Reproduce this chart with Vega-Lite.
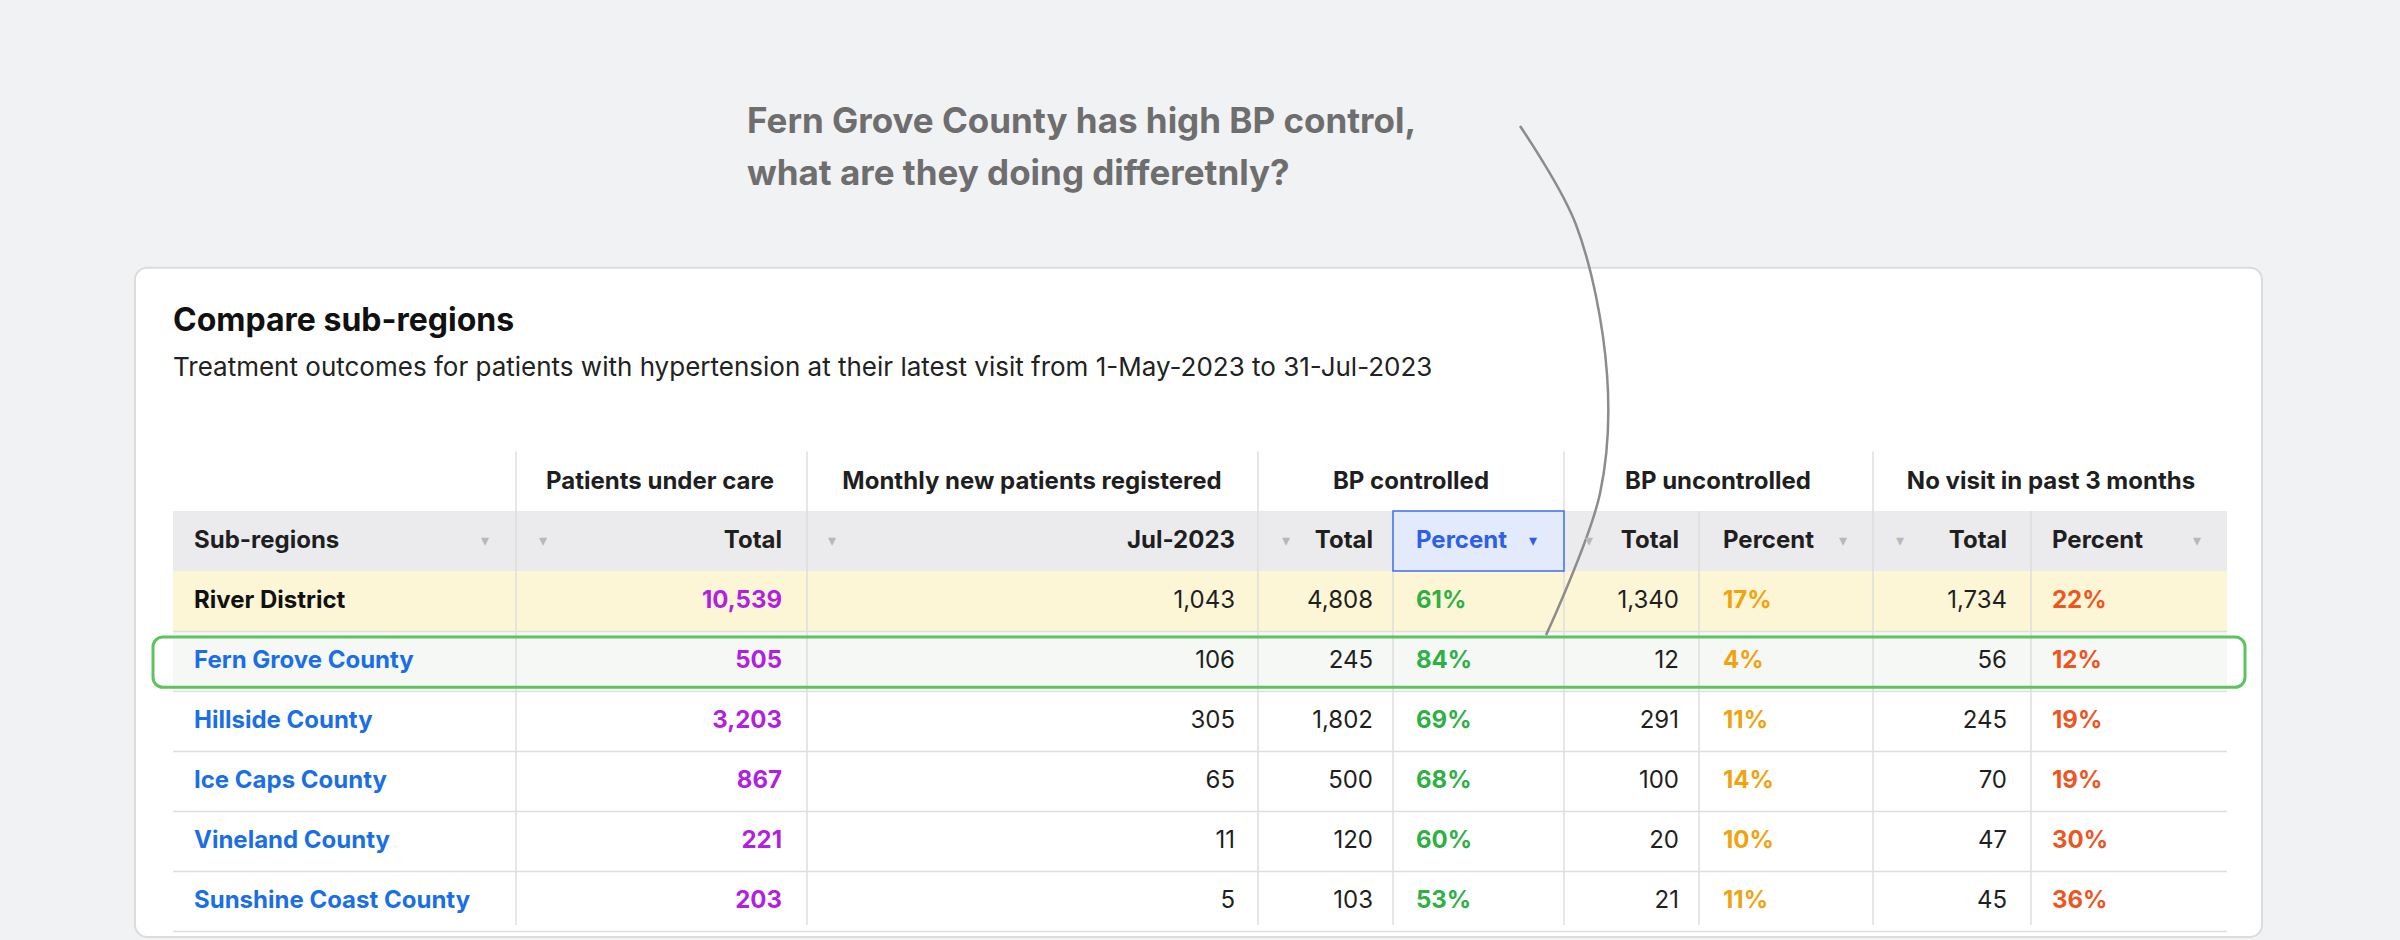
{
  "$schema": "https://vega.github.io/schema/vega-lite/v6.json",
  "autosize": {"type": "fit", "contains": "padding"},
  "width": 2400,
  "height": 940,
  "padding": 0,
  "background": "#f1f2f4",
  "config": {
    "view": {"stroke": null},
    "axis": {"disable": true},
    "text": {"font": "Inter", "fontSize": 24, "baseline": "middle", "color": "#1f1f1f"}
  },
  "data": {
    "values": [
      {"row": 0, "region": "River District", "under_care": 10539, "jul": 1043, "bp_total": 4808, "bp_pct": 0.61, "unc_total": 1340, "unc_pct": 0.17, "nv_total": 1734, "nv_pct": 0.22},
      {"row": 1, "region": "Fern Grove County", "under_care": 505, "jul": 106, "bp_total": 245, "bp_pct": 0.84, "unc_total": 12, "unc_pct": 0.04, "nv_total": 56, "nv_pct": 0.12},
      {"row": 2, "region": "Hillside County", "under_care": 3203, "jul": 305, "bp_total": 1802, "bp_pct": 0.69, "unc_total": 291, "unc_pct": 0.11, "nv_total": 245, "nv_pct": 0.19},
      {"row": 3, "region": "Ice Caps County", "under_care": 867, "jul": 65, "bp_total": 500, "bp_pct": 0.68, "unc_total": 100, "unc_pct": 0.14, "nv_total": 70, "nv_pct": 0.19},
      {"row": 4, "region": "Vineland County", "under_care": 221, "jul": 11, "bp_total": 120, "bp_pct": 0.60, "unc_total": 20, "unc_pct": 0.10, "nv_total": 47, "nv_pct": 0.30},
      {"row": 5, "region": "Sunshine Coast County", "under_care": 203, "jul": 5, "bp_total": 103, "bp_pct": 0.53, "unc_total": 21, "unc_pct": 0.11, "nv_total": 45, "nv_pct": 0.36}
    ]
  },
  "layer": [
    {
      "data": {"values": [{}]},
      "mark": {"type": "rect", "fill": "white", "stroke": "#dcdcdc", "strokeWidth": 2, "cornerRadius": 12},
      "encoding": {
        "x": {"datum": 135, "type": "quantitative", "scale": {"domain": [0, 2400], "nice": false, "zero": false}},
        "x2": {"datum": 2262},
        "y": {"datum": -5.554, "type": "quantitative", "scale": {"domain": [-10.016, 4.902], "nice": false, "zero": false, "reverse": true}},
        "y2": {"datum": 5.6}
      }
    },
    {
      "data": {"values": [{}]},
      "mark": {"type": "rect", "fill": "#fcf6d6"},
      "encoding": {"x": {"datum": 173}, "x2": {"datum": 2227}, "y": {"datum": -0.5}, "y2": {"datum": 0.5}}
    },
    {
      "data": {"values": [{}]},
      "mark": {"type": "rect", "fill": "#ebebed"},
      "encoding": {"x": {"datum": 173}, "x2": {"datum": 2227}, "y": {"datum": -1.5}, "y2": {"datum": -0.5}}
    },
    {
      "data": {"values": [{}]},
      "mark": {"type": "rect", "fill": "#f5f8f4"},
      "encoding": {"x": {"datum": 173}, "x2": {"datum": 2227}, "y": {"datum": 0.5}, "y2": {"datum": 1.5}}
    },
    {
      "mark": {"type": "rule", "color": "#dedede", "strokeWidth": 1.5, "yOffset": 30.7},
      "encoding": {"x": {"datum": 173}, "x2": {"datum": 2227}, "y": {"field": "row", "type": "quantitative"}}
    },
    {"data": {"values": [{}]}, "mark": {"type": "rule", "color": "#dedede", "strokeWidth": 1.5}, "encoding": {"x": {"datum": 516}, "y": {"datum": -2.49}, "y2": {"datum": 5.4}}},
    {"data": {"values": [{}]}, "mark": {"type": "rule", "color": "#dedede", "strokeWidth": 1.5}, "encoding": {"x": {"datum": 807}, "y": {"datum": -2.49}, "y2": {"datum": 5.4}}},
    {"data": {"values": [{}]}, "mark": {"type": "rule", "color": "#dedede", "strokeWidth": 1.5}, "encoding": {"x": {"datum": 1258}, "y": {"datum": -2.49}, "y2": {"datum": 5.4}}},
    {"data": {"values": [{}]}, "mark": {"type": "rule", "color": "#dedede", "strokeWidth": 1.5}, "encoding": {"x": {"datum": 1564}, "y": {"datum": -2.49}, "y2": {"datum": 5.4}}},
    {"data": {"values": [{}]}, "mark": {"type": "rule", "color": "#dedede", "strokeWidth": 1.5}, "encoding": {"x": {"datum": 1873}, "y": {"datum": -2.49}, "y2": {"datum": 5.4}}},
    {"data": {"values": [{}]}, "mark": {"type": "rule", "color": "#dedede", "strokeWidth": 1.5}, "encoding": {"x": {"datum": 1393}, "y": {"datum": -1.5}, "y2": {"datum": 5.4}}},
    {"data": {"values": [{}]}, "mark": {"type": "rule", "color": "#dedede", "strokeWidth": 1.5}, "encoding": {"x": {"datum": 1699}, "y": {"datum": -1.5}, "y2": {"datum": 5.4}}},
    {"data": {"values": [{}]}, "mark": {"type": "rule", "color": "#dedede", "strokeWidth": 1.5}, "encoding": {"x": {"datum": 2031}, "y": {"datum": -1.5}, "y2": {"datum": 5.4}}},
    {
      "data": {"values": [{}]},
      "mark": {"type": "rect", "fill": "#e2eafc", "stroke": "#3d6ef5", "strokeWidth": 1.5},
      "encoding": {"x": {"datum": 1393}, "x2": {"datum": 1564}, "y": {"datum": -1.5}, "y2": {"datum": -0.5}}
    },
    {
      "data": {"values": [{}]},
      "mark": {"type": "rect", "fill": null, "fillOpacity": 0, "stroke": "#5cc45c", "strokeWidth": 3, "cornerRadius": 10},
      "encoding": {"x": {"datum": 153}, "x2": {"datum": 2245}, "y": {"datum": 0.6}, "y2": {"datum": 1.44}}
    },
    {
      "data": {"values": [{"t": "Compare sub-regions"}]},
      "mark": {"type": "text", "align": "left", "fontSize": 32, "fontWeight": "bold", "color": "#111"},
      "encoding": {"x": {"datum": 173}, "y": {"datum": -4.658}, "text": {"field": "t"}}
    },
    {
      "data": {"values": [{"t": "Treatment outcomes for patients with hypertension at their latest visit from 1-May-2023 to 31-Jul-2023"}]},
      "mark": {"type": "text", "align": "left", "fontSize": 26, "color": "#222"},
      "encoding": {"x": {"datum": 173}, "y": {"datum": -3.876}, "text": {"field": "t"}}
    },
    {
      "data": {"values": [{"t": "Fern Grove County has high BP control,"}]},
      "mark": {"type": "text", "align": "left", "fontSize": 35, "fontWeight": "bold", "color": "#6e6e6e"},
      "encoding": {"x": {"datum": 747}, "y": {"datum": -7.98}, "text": {"field": "t"}}
    },
    {
      "data": {"values": [{"t": "what are they doing differetnly?"}]},
      "mark": {"type": "text", "align": "left", "fontSize": 35, "fontWeight": "bold", "color": "#6e6e6e"},
      "encoding": {"x": {"datum": 747}, "y": {"datum": -7.117}, "text": {"field": "t"}}
    },
    {
      "data": {"values": [
        {"i": 0, "px": 1520, "py": -7.915},
        {"i": 1, "px": 1576, "py": -6.27},
        {"i": 2, "px": 1607, "py": -3.779},
        {"i": 3, "px": 1600, "py": -1.792},
        {"i": 4, "px": 1546, "py": 0.57}
      ]},
      "mark": {"type": "line", "color": "#8c8c8c", "strokeWidth": 2.5, "interpolate": "catmull-rom"},
      "encoding": {
        "x": {"field": "px", "type": "quantitative"},
        "y": {"field": "py", "type": "quantitative"},
        "order": {"field": "i"}
      }
    },
    {"data": {"values": [{"t": "Patients under care"}]}, "mark": {"type": "text", "fontWeight": "bold"}, "encoding": {"x": {"datum": 660}, "y": {"datum": -1.987}, "text": {"field": "t"}}},
    {"data": {"values": [{"t": "Monthly new patients registered"}]}, "mark": {"type": "text", "fontWeight": "bold"}, "encoding": {"x": {"datum": 1032}, "y": {"datum": -1.987}, "text": {"field": "t"}}},
    {"data": {"values": [{"t": "BP controlled"}]}, "mark": {"type": "text", "fontWeight": "bold"}, "encoding": {"x": {"datum": 1411}, "y": {"datum": -1.987}, "text": {"field": "t"}}},
    {"data": {"values": [{"t": "BP uncontrolled"}]}, "mark": {"type": "text", "fontWeight": "bold"}, "encoding": {"x": {"datum": 1718}, "y": {"datum": -1.987}, "text": {"field": "t"}}},
    {"data": {"values": [{"t": "No visit in past 3 months"}]}, "mark": {"type": "text", "fontWeight": "bold"}, "encoding": {"x": {"datum": 2051}, "y": {"datum": -1.987}, "text": {"field": "t"}}},
    {"data": {"values": [{"t": "Sub-regions"}]}, "mark": {"type": "text", "fontWeight": "bold", "align": "left"}, "encoding": {"x": {"datum": 194}, "y": {"datum": -1.0}, "text": {"field": "t"}}},
    {"data": {"values": [{"t": "Total"}]}, "mark": {"type": "text", "fontWeight": "bold", "align": "right"}, "encoding": {"x": {"datum": 782}, "y": {"datum": -1.0}, "text": {"field": "t"}}},
    {"data": {"values": [{"t": "Jul-2023"}]}, "mark": {"type": "text", "fontWeight": "bold", "align": "right"}, "encoding": {"x": {"datum": 1235}, "y": {"datum": -1.0}, "text": {"field": "t"}}},
    {"data": {"values": [{"t": "Total"}]}, "mark": {"type": "text", "fontWeight": "bold", "align": "right"}, "encoding": {"x": {"datum": 1373}, "y": {"datum": -1.0}, "text": {"field": "t"}}},
    {"data": {"values": [{"t": "Percent"}]}, "mark": {"type": "text", "fontWeight": "bold", "align": "left", "color": "#2f5fe8"}, "encoding": {"x": {"datum": 1416}, "y": {"datum": -1.0}, "text": {"field": "t"}}},
    {"data": {"values": [{"t": "Total"}]}, "mark": {"type": "text", "fontWeight": "bold", "align": "right"}, "encoding": {"x": {"datum": 1679}, "y": {"datum": -1.0}, "text": {"field": "t"}}},
    {"data": {"values": [{"t": "Percent"}]}, "mark": {"type": "text", "fontWeight": "bold", "align": "left"}, "encoding": {"x": {"datum": 1723}, "y": {"datum": -1.0}, "text": {"field": "t"}}},
    {"data": {"values": [{"t": "Total"}]}, "mark": {"type": "text", "fontWeight": "bold", "align": "right"}, "encoding": {"x": {"datum": 2007}, "y": {"datum": -1.0}, "text": {"field": "t"}}},
    {"data": {"values": [{"t": "Percent"}]}, "mark": {"type": "text", "fontWeight": "bold", "align": "left"}, "encoding": {"x": {"datum": 2052}, "y": {"datum": -1.0}, "text": {"field": "t"}}},
    {
      "data": {"values": [{"t": "▾", "px": 485}, {"t": "▾", "px": 543}, {"t": "▾", "px": 832}, {"t": "▾", "px": 1286}, {"t": "▾", "px": 1589}, {"t": "▾", "px": 1843}, {"t": "▾", "px": 1900}, {"t": "▾", "px": 2197}]},
      "mark": {"type": "text", "fontSize": 16, "color": "#b8b8b8", "font": "DejaVu Sans"},
      "encoding": {"x": {"field": "px", "type": "quantitative"}, "y": {"datum": -1.0}, "text": {"field": "t"}}
    },
    {"data": {"values": [{"t": "▾"}]}, "mark": {"type": "text", "fontSize": 16, "color": "#2f5fe8", "font": "DejaVu Sans"}, "encoding": {"x": {"datum": 1533}, "y": {"datum": -1.0}, "text": {"field": "t"}}},
    {
      "mark": {"type": "text", "align": "left", "fontWeight": "bold"},
      "encoding": {
        "x": {"datum": 194}, "y": {"field": "row", "type": "quantitative"}, "text": {"field": "region"},
        "color": {"condition": {"test": "datum.row == 0", "value": "#111111"}, "value": "#1a6fe6"}
      }
    },
    {"mark": {"type": "text", "align": "right", "fontWeight": "bold", "color": "#b21fe0"}, "encoding": {"x": {"datum": 782}, "y": {"field": "row", "type": "quantitative"}, "text": {"field": "under_care", "format": ","}}},
    {"mark": {"type": "text", "align": "right"}, "encoding": {"x": {"datum": 1235}, "y": {"field": "row", "type": "quantitative"}, "text": {"field": "jul", "format": ","}}},
    {"mark": {"type": "text", "align": "right"}, "encoding": {"x": {"datum": 1373}, "y": {"field": "row", "type": "quantitative"}, "text": {"field": "bp_total", "format": ","}}},
    {"mark": {"type": "text", "align": "left", "fontWeight": "bold", "color": "#2eb045"}, "encoding": {"x": {"datum": 1416}, "y": {"field": "row", "type": "quantitative"}, "text": {"field": "bp_pct", "format": ".0%"}}},
    {"mark": {"type": "text", "align": "right"}, "encoding": {"x": {"datum": 1679}, "y": {"field": "row", "type": "quantitative"}, "text": {"field": "unc_total", "format": ","}}},
    {"mark": {"type": "text", "align": "left", "fontWeight": "bold", "color": "#f0a30e"}, "encoding": {"x": {"datum": 1723}, "y": {"field": "row", "type": "quantitative"}, "text": {"field": "unc_pct", "format": ".0%"}}},
    {"mark": {"type": "text", "align": "right"}, "encoding": {"x": {"datum": 2007}, "y": {"field": "row", "type": "quantitative"}, "text": {"field": "nv_total", "format": ","}}},
    {"mark": {"type": "text", "align": "left", "fontWeight": "bold", "color": "#f0541e"}, "encoding": {"x": {"datum": 2052}, "y": {"field": "row", "type": "quantitative"}, "text": {"field": "nv_pct", "format": ".0%"}}}
  ]
}
